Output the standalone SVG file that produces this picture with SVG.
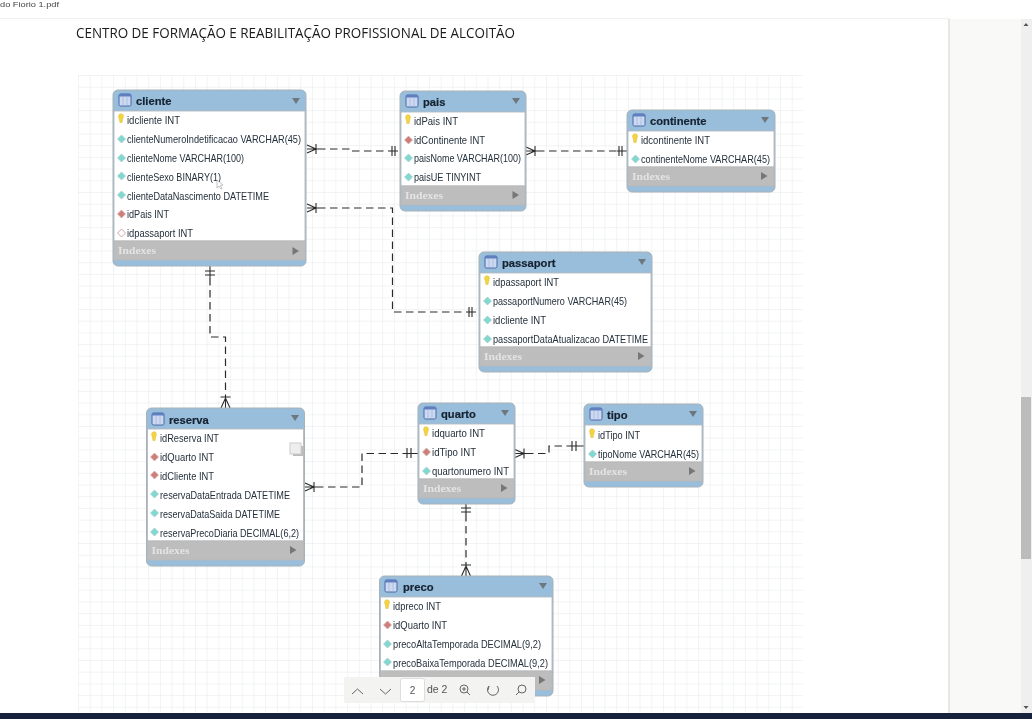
<svg xmlns="http://www.w3.org/2000/svg" width="1032" height="719" viewBox="0 0 1032 719">
<style>
text{font-family:"Liberation Sans",Arial,sans-serif}
.box{fill:#98bedb;stroke:#a9b2b8;stroke-width:1}
.body{fill:#fff;stroke:#b5bbbf;stroke-width:.9}
.idx{fill:#bdbdbd;stroke:#b8b8b8;stroke-width:.9}
.title{font-size:11.200px;font-weight:700;fill:#152230;stroke:#152230;stroke-width:.2}
.row{font-size:10.200px;fill:#24303c}
.itxt{font-family:"Liberation Serif",serif;font-size:10.500px;font-weight:700;fill:#e4e4e4}
.tri{fill:#6d777d}
.tri2{fill:#777}
.ico{fill:#ccd9f0;stroke:#4a66a8;stroke-width:1}
.icoh{fill:#5f7fc0}
.key{fill:#f4d440;stroke:#dcb830;stroke-width:.5}
.pk{fill:#7fd8d2;stroke:#a9cccc;stroke-width:.7}
.fk{fill:#cf7d78;stroke:#d6b4b2;stroke-width:.7}
.nk{fill:#fff;stroke:#cf9a98;stroke-width:.9}
.conn{fill:none;stroke:#2a2a2a;stroke-width:1.200;stroke-dasharray:7.500 4.500}
.mark{fill:none;stroke:#2a2a2a;stroke-width:1.100}
.tb{fill:none;stroke:#666;stroke-width:1}
</style>
<defs>
<filter id="soft" x="0" y="0" width="100%" height="100%"><feGaussianBlur stdDeviation="0.3"/></filter>
<pattern id="g" width="11.700" height="11.700" patternUnits="userSpaceOnUse" x="78" y="75">
<path d="M0 0H11.700M0 0V11.700" fill="none" stroke="#e5e8ea" stroke-width="1"/>
</pattern>
<g id="i"><rect x="-6" y="-6" width="12" height="12" rx="1.500" class="ico"/><path d="M-6-6H6V-3.500H-6Z" class="icoh"/><path d="M-2-3.500V6M2-3.500V6" stroke="#9fb4dc" stroke-width=".7"/></g>
<g id="k"><path d="M-2.400-4.500A2.500 2.500 0 0 1 2.400-4.500C2.600-2.500 1.300-1 1.100 2.500H-1.100C-1.300-1-2.600-2.500-2.400-4.500Z" class="key"/></g>
<path id="d" d="M0-4L4 0L0 4L-4 0Z"/>
</defs>
<g filter="url(#soft)">
<rect width="1032" height="719" fill="#fff"/>
<rect x="78" y="75" width="725" height="637" fill="url(#g)"/>
<rect x="949" y="19" width="83" height="694" fill="#f9f9f7"/>
<rect x="948" y="19" width="2" height="694" fill="#e6e7e6"/>
<rect x="1021" y="19" width="11" height="694" fill="#efefef"/>
<rect x="1021" y="397" width="10" height="162" fill="#bcbcbc"/>
<path d="M1023.500 26L1026 23L1028.500 26Z M1023.500 706L1026 709L1028.500 706Z" fill="#555"/>
<rect width="1032" height="18" fill="#fff"/>
<path d="M0 18.500H949" stroke="#efefef"/>
<text x="0" y="7" font-size="8" fill="#444" textLength="59" lengthAdjust="spacingAndGlyphs">do Fiorio 1.pdf</text>
<text x="76" y="37.500" font-size="14.500" fill="#1a1a1a" style="font-family:'Open Sans',sans-serif" textLength="439" lengthAdjust="spacingAndGlyphs">CENTRO DE FORMAÇÃO E REABILITAÇÃO PROFISSIONAL DE ALCOITÃO</text>

<g id="connectors">
<path class="conn" d="M318 149H351V151H390"/>
<path class="mark" d="M307 145L316 149L307 153M307 149H318M316 144V154M392 146V156M395 146V156M390 151H398"/>
<path class="conn" d="M318 208H392.500V312H467"/>
<path class="mark" d="M307 204L316 208L307 212M307 208H318M316 203V213M469 307V317M472 307V317M467 312H476"/>
<path class="conn" d="M537 151H617"/>
<path class="mark" d="M526 147L535 151L526 155M526 151H537M535 146V156M619 146V156M622 146V156M617 151H627"/>
<path class="conn" d="M210 278V337H225.500V396"/>
<path class="mark" d="M205 271H215M205 275H215M210 266V278M221 408L225.500 398L230 408M225.500 396V408M220.500 397H230.500"/>
<path class="conn" d="M316 487H362V453.500H405"/>
<path class="mark" d="M305 483L314 487L305 491M305 487H316M314 482V492M407 448V458M411 448V458M405 453.500H418"/>
<path class="conn" d="M526 453.500H549V446H570"/>
<path class="mark" d="M515 449.500L524 453.500L515 457.500M515 453.500H526M524 448.500V458.500M572 441V451M576 441V451M570 446H584"/>
<path class="conn" d="M466 514V564"/>
<path class="mark" d="M461 508H471M461 512H471M466 504V514M461.500 576L466 566L470.500 576M466 564V576M461 565H471"/>
</g>

<g id="cliente">
<rect class="box" x="113" y="90" width="193" height="176" rx="5"/>
<rect class="body" x="114" y="111" width="191" height="130"/>
<rect class="idx" x="114" y="241" width="191" height="19"/>
<use href="#i" x="125" y="100"/><text class="title" x="136" y="105">cliente</text>
<path class="tri" d="M292 98H300L296 104Z"/>
<use href="#k" x="121" y="120"/><text class="row" x="127" y="124" textLength="53" lengthAdjust="spacingAndGlyphs">idcliente INT</text>
<use href="#d" class="pk" x="121.500" y="139"/><text class="row" x="127" y="143" textLength="174" lengthAdjust="spacingAndGlyphs">clienteNumeroIndetificacao VARCHAR(45)</text>
<use href="#d" class="pk" x="121.500" y="158"/><text class="row" x="127" y="162" textLength="117" lengthAdjust="spacingAndGlyphs">clienteNome VARCHAR(100)</text>
<use href="#d" class="pk" x="121.500" y="176"/><text class="row" x="127" y="181" textLength="94" lengthAdjust="spacingAndGlyphs">clienteSexo BINARY(1)</text>
<use href="#d" class="pk" x="121.500" y="195"/><text class="row" x="127" y="200" textLength="142" lengthAdjust="spacingAndGlyphs">clienteDataNascimento DATETIME</text>
<use href="#d" class="fk" x="121.500" y="214"/><text class="row" x="127" y="218" textLength="42" lengthAdjust="spacingAndGlyphs">idPais INT</text>
<use href="#d" class="nk" x="121.500" y="233"/><text class="row" x="127" y="237" textLength="66" lengthAdjust="spacingAndGlyphs">idpassaport INT</text>
<text class="itxt" x="118" y="254" textLength="38" lengthAdjust="spacingAndGlyphs">Indexes</text><path class="tri2" d="M292.500 247L299 251L292.500 255Z"/>
<path d="M217 180L217 188L219 186L221 189L222 188.500L220.500 185.500L223 185Z" fill="#fff" stroke="#888" stroke-width=".5"/>
</g>

<g id="pais">
<rect class="box" x="400" y="91" width="126" height="120" rx="5"/>
<rect class="body" x="401" y="112" width="124" height="74"/>
<rect class="idx" x="401" y="186" width="124" height="19"/>
<use href="#i" x="412" y="101"/><text class="title" x="423" y="106">pais</text>
<path class="tri" d="M512 98H520L516 104Z"/>
<use href="#k" x="408" y="121"/><text class="row" x="414" y="125" textLength="44" lengthAdjust="spacingAndGlyphs">idPais INT</text>
<use href="#d" class="fk" x="408.500" y="140"/><text class="row" x="414" y="144" textLength="71" lengthAdjust="spacingAndGlyphs">idContinente INT</text>
<use href="#d" class="pk" x="408.500" y="158"/><text class="row" x="414" y="162" textLength="107" lengthAdjust="spacingAndGlyphs">paisNome VARCHAR(100)</text>
<use href="#d" class="pk" x="408.500" y="177"/><text class="row" x="414" y="181" textLength="67" lengthAdjust="spacingAndGlyphs">paisUE TINYINT</text>
<text class="itxt" x="405" y="199" textLength="38" lengthAdjust="spacingAndGlyphs">Indexes</text><path class="tri2" d="M512.500 191L519 195L512.500 199Z"/>
</g>

<g id="continente">
<rect class="box" x="627" y="110" width="148" height="82" rx="5"/>
<rect class="body" x="628" y="131" width="146" height="36"/>
<rect class="idx" x="628" y="167" width="146" height="19"/>
<use href="#i" x="639" y="120"/><text class="title" x="650" y="125">continente</text>
<path class="tri" d="M761 117H769L765 123Z"/>
<use href="#k" x="635" y="140"/><text class="row" x="641" y="144" textLength="69" lengthAdjust="spacingAndGlyphs">idcontinente INT</text>
<use href="#d" class="pk" x="635.500" y="159"/><text class="row" x="641" y="163" textLength="129" lengthAdjust="spacingAndGlyphs">continenteNome VARCHAR(45)</text>
<text class="itxt" x="632" y="180" textLength="38" lengthAdjust="spacingAndGlyphs">Indexes</text><path class="tri2" d="M761 172L767.500 176L761 180Z"/>
</g>

<g id="passaport">
<rect class="box" x="479" y="252" width="173" height="120" rx="5"/>
<rect class="body" x="480" y="273" width="171" height="74"/>
<rect class="idx" x="480" y="347" width="171" height="19"/>
<use href="#i" x="491" y="262"/><text class="title" x="502" y="267">passaport</text>
<path class="tri" d="M638 259H646L642 265Z"/>
<use href="#k" x="487" y="282"/><text class="row" x="493" y="286" textLength="66" lengthAdjust="spacingAndGlyphs">idpassaport INT</text>
<use href="#d" class="pk" x="487.500" y="301"/><text class="row" x="493" y="305" textLength="134" lengthAdjust="spacingAndGlyphs">passaportNumero VARCHAR(45)</text>
<use href="#d" class="pk" x="487.500" y="320"/><text class="row" x="493" y="324" textLength="53" lengthAdjust="spacingAndGlyphs">idcliente INT</text>
<use href="#d" class="pk" x="487.500" y="339"/><text class="row" x="493" y="343" textLength="155" lengthAdjust="spacingAndGlyphs">passaportDataAtualizacao DATETIME</text>
<text class="itxt" x="484" y="360" textLength="38" lengthAdjust="spacingAndGlyphs">Indexes</text><path class="tri2" d="M638 352L644.500 356L638 360Z"/>
</g>

<g id="reserva">
<rect class="box" x="146.500" y="408" width="158" height="158" rx="5"/>
<rect class="body" x="147.500" y="429" width="156" height="112"/>
<rect class="idx" x="147.500" y="541" width="156" height="19"/>
<use href="#i" x="158" y="419"/><text class="title" x="169" y="424">reserva</text>
<path class="tri" d="M291 415H299L295 421Z"/>
<use href="#k" x="154" y="438"/><text class="row" x="160" y="442" textLength="59" lengthAdjust="spacingAndGlyphs">idReserva INT</text>
<use href="#d" class="fk" x="154.500" y="457"/><text class="row" x="160" y="461" textLength="54" lengthAdjust="spacingAndGlyphs">idQuarto INT</text>
<use href="#d" class="fk" x="154.500" y="475"/><text class="row" x="160" y="480" textLength="54" lengthAdjust="spacingAndGlyphs">idCliente INT</text>
<use href="#d" class="pk" x="154.500" y="494"/><text class="row" x="160" y="499" textLength="130" lengthAdjust="spacingAndGlyphs">reservaDataEntrada DATETIME</text>
<use href="#d" class="pk" x="154.500" y="513"/><text class="row" x="160" y="518" textLength="120" lengthAdjust="spacingAndGlyphs">reservaDataSaida DATETIME</text>
<use href="#d" class="pk" x="154.500" y="532"/><text class="row" x="160" y="537" textLength="139" lengthAdjust="spacingAndGlyphs">reservaPrecoDiaria DECIMAL(6,2)</text>
<text class="itxt" x="151.500" y="554" textLength="38" lengthAdjust="spacingAndGlyphs">Indexes</text><path class="tri2" d="M290 546L296.500 550L290 554Z"/>
<rect x="293" y="446" width="10" height="10" fill="#bbb"/><rect x="290" y="443" width="11" height="11" fill="#eee" stroke="#ccc"/>
</g>

<g id="quarto">
<rect class="box" x="418" y="403" width="97" height="101" rx="5"/>
<rect class="body" x="419" y="424" width="95" height="55"/>
<rect class="idx" x="419" y="479" width="95" height="19"/>
<use href="#i" x="430" y="413"/><text class="title" x="441" y="418">quarto</text>
<path class="tri" d="M501 410H509L505 416Z"/>
<use href="#k" x="426" y="433"/><text class="row" x="432" y="437" textLength="53" lengthAdjust="spacingAndGlyphs">idquarto INT</text>
<use href="#d" class="fk" x="426.500" y="452"/><text class="row" x="432" y="456" textLength="44" lengthAdjust="spacingAndGlyphs">idTipo INT</text>
<use href="#d" class="pk" x="426.500" y="471"/><text class="row" x="432" y="475" textLength="77" lengthAdjust="spacingAndGlyphs">quartonumero INT</text>
<text class="itxt" x="423" y="492" textLength="38" lengthAdjust="spacingAndGlyphs">Indexes</text><path class="tri2" d="M501 484L507.500 488L501 492Z"/>
</g>

<g id="tipo">
<rect class="box" x="584" y="404" width="119" height="83" rx="5"/>
<rect class="body" x="585" y="425" width="117" height="37"/>
<rect class="idx" x="585" y="462" width="117" height="19"/>
<use href="#i" x="596" y="414"/><text class="title" x="607" y="419">tipo</text>
<path class="tri" d="M689 411H697L693 417Z"/>
<use href="#k" x="592" y="435"/><text class="row" x="598" y="439" textLength="42" lengthAdjust="spacingAndGlyphs">idTipo INT</text>
<use href="#d" class="pk" x="592.500" y="454"/><text class="row" x="598" y="458" textLength="101" lengthAdjust="spacingAndGlyphs">tipoNome VARCHAR(45)</text>
<text class="itxt" x="589" y="475" textLength="38" lengthAdjust="spacingAndGlyphs">Indexes</text><path class="tri2" d="M689 467L695.500 471L689 475Z"/>
</g>

<g id="preco">
<rect class="box" x="379.500" y="576" width="173.500" height="120" rx="5"/>
<rect class="body" x="380.500" y="597" width="171.500" height="74"/>
<rect class="idx" x="380.500" y="671" width="171.500" height="19"/>
<use href="#i" x="391" y="586"/><text class="title" x="403" y="591">preco</text>
<path class="tri" d="M539 583H547L543 589Z"/>
<use href="#k" x="387" y="606"/><text class="row" x="393" y="610" textLength="48" lengthAdjust="spacingAndGlyphs">idpreco INT</text>
<use href="#d" class="fk" x="387.500" y="625"/><text class="row" x="393" y="629" textLength="54" lengthAdjust="spacingAndGlyphs">idQuarto INT</text>
<use href="#d" class="pk" x="387.500" y="644"/><text class="row" x="393" y="648" textLength="148" lengthAdjust="spacingAndGlyphs">precoAltaTemporada DECIMAL(9,2)</text>
<use href="#d" class="pk" x="387.500" y="662"/><text class="row" x="393" y="667" textLength="155" lengthAdjust="spacingAndGlyphs">precoBaixaTemporada DECIMAL(9,2)</text>
<path class="tri2" d="M539 676L545.500 680L539 684Z"/>
</g>

<g id="toolbar">
<rect x="344" y="677" width="191" height="26" fill="#f3f3f2"/>
<rect x="400.500" y="678.500" width="24" height="23" rx="2" fill="#fff" stroke="#ddd"/>
<text x="412.500" y="694" font-size="10" fill="#555" text-anchor="middle">2</text>
<text x="427" y="693" font-size="10.500" fill="#555">de 2</text>
<path class="tb" d="M352 694L357.500 689L363 694M380 689L385.500 694L391 689"/>
<circle class="tb" cx="464" cy="689" r="4"/><path class="tb" d="M467 692L470 695M462 689H466M464 687V691"/>
<path class="tb" d="M489 686A5.500 5.500 0 1 0 497 686M489 686L488 690"/>
<circle class="tb" cx="522" cy="689" r="4"/><path class="tb" d="M519 692L516 695"/>
</g>

<rect x="0" y="713" width="1032" height="6" fill="#14233a"/>
</g>
</svg>
